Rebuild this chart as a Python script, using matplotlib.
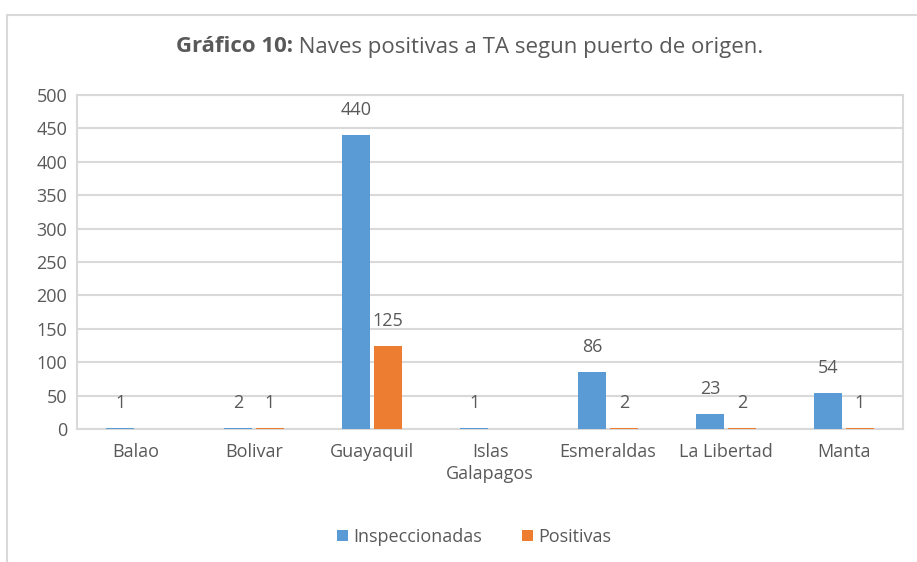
import numpy as np
import matplotlib.pyplot as plt
from matplotlib.patches import Rectangle

# data
puertos = ['Balao', 'Bolivar', 'Guayaquil', 'Islas\nGalapagos', 'Esmeraldas', 'La Libertad', 'Manta']
inspeccionadas = [1, 2, 440, 1, 86, 23, 54]
positivas = [0, 1, 125, 0, 2, 2, 1]
yticks = [0, 50, 100, 150, 200, 250, 300, 350, 400, 450, 500]

azul = '#5B9BD5'
naranja = '#ED7D31'
gris_txt = '#595959'
gris_lin = '#D9D9D9'
fs = 13

plt.rcParams['font.family'] = ['Open Sans', 'DejaVu Sans']

fig = plt.figure(figsize=(9.17, 5.62), dpi=100)
ax = fig.add_axes([77/917, 1 - 429/562, (903-77)/917, (429-95)/562])

# outer chart border
fig.patches.append(Rectangle((7/917, -0.1), 1.2, 1 - 15/562 + 0.1, transform=fig.transFigure,
                             fill=False, edgecolor=gris_lin, linewidth=1.5))

x = np.arange(len(puertos))
w = 0.235
off = 0.135
b1 = ax.bar(x - off, inspeccionadas, w, color=azul, label='Inspeccionadas', zorder=3)
b2 = ax.bar(x + off, positivas, w, color=naranja, label='Positivas', zorder=3)

for bars, vals in ((b1, inspeccionadas), (b2, positivas)):
    for rect, v in zip(bars, vals):
        if v == 0:
            continue
        ax.annotate(str(v), (rect.get_x() + rect.get_width()/2, v), xytext=(0, 25),
                    textcoords='offset pixels', ha='center', va='center',
                    fontsize=fs, color=gris_txt)

ax.set_xlim(-0.5, len(puertos) - 0.5)
ax.set_ylim(0, 500)
ax.set_yticks(yticks)
ax.set_xticks(x)
ax.set_xticklabels(puertos, linespacing=1.3)
ax.tick_params(axis='both', length=0, labelsize=fs, colors=gris_txt)
ax.tick_params(axis='x', pad=10)
ax.tick_params(axis='y', pad=7)
ax.yaxis.grid(True, color=gris_lin, linewidth=1.5, zorder=0)
ax.set_axisbelow(True)
for s in ax.spines.values():
    s.set_color(gris_lin)
    s.set_linewidth(1.5)

# title with bold prefix
title_y = 1 - 47/562
r = fig.canvas.get_renderer()
tb = fig.text(0, title_y, 'Gráfico 10:', fontsize=16, fontweight='bold', color=gris_txt, va='center')
tn = fig.text(0, title_y, ' Naves positivas a TA segun puerto de origen.', fontsize=16,
              color=gris_txt, va='center')
wb = tb.get_window_extent(r).width
wn = tn.get_window_extent(r).width
start = 470 - (wb + wn) / 2
tb.set_x(start / 917)
tn.set_x((start + wb) / 917)

ax.legend(loc='center', bbox_to_anchor=(474/917, 1 - 537/562), bbox_transform=fig.transFigure,
          ncol=2, frameon=False, fontsize=fs, labelcolor=gris_txt, handlelength=0.6,
          handleheight=0.6, handletextpad=0.3, columnspacing=2.2)

fig.savefig('out.png', dpi=100)
